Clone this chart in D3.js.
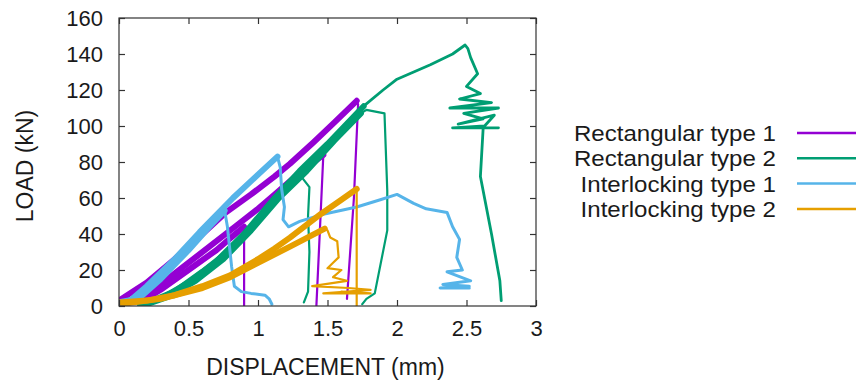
<!DOCTYPE html>
<html>
<head>
<meta charset="utf-8">
<script src="https://cdn.jsdelivr.net/npm/d3@7"></script>
<style>
  body { margin: 0; background: #fff; }
  svg { display: block; font-family: "Liberation Sans", Arial, sans-serif; }
</style>
</head>
<body>
<svg id="chart" width="856" height="382"></svg>
<script>
// axis ticks
const xTicks = [0, 0.5, 1, 1.5, 2, 2.5, 3];
const yTicks = [0, 20, 40, 60, 80, 100, 120, 140, 160];

const seriesNames = ['Rectangular type 1', 'Rectangular type 2', 'Interlocking type 1', 'Interlocking type 2'];
const seriesColors = ['#9400d3', '#009e73', '#56b4e9', '#e69f00'];

// Rectangular type 1 specimens [displacement mm, load kN]
const r1aLoad = [[0, 3], [0.2, 13], [0.4, 26], [0.6, 40], [0.77, 52], [0.95, 62], [1.12, 72], [1.23, 79], [1.4, 91], [1.55, 102], [1.71, 114]];
const r1aPost = [[1.71, 114], [1.72, 112], [1.69, 60], [1.64, 4]];
const r1bLoad = [[0.15, 2], [0.3, 9], [0.5, 20], [0.7, 31], [0.79, 37], [0.9, 44]];
const r1bPost = [[0.9, 44], [0.9, 20], [0.9, 0]];
const r1cLoad = [[0.05, 1], [0.25, 9], [0.45, 21], [0.65, 33], [0.85, 45], [1.0, 54], [1.12, 62], [1.3, 74], [1.47, 84]];
const r1cPost = [[1.47, 84], [1.45, 50], [1.42, 0]];

// Rectangular type 2 specimens
const r2aLoad = [[0.15, 1], [0.3, 4], [0.5, 13], [0.69, 24], [0.9, 40], [1.12, 60], [1.3, 75], [1.5, 90], [1.76, 111]];
const r2aPost = [[1.76, 111], [1.9, 120], [2.0, 126], [2.12, 130], [2.24, 134], [2.4, 140], [2.49, 145], [2.51, 143], [2.53, 138],
  [2.58, 129], [2.5, 122], [2.6, 118], [2.45, 115], [2.68, 113], [2.38, 110], [2.73, 110], [2.48, 107], [2.62, 104],
  [2.44, 101], [2.7, 106], [2.63, 100], [2.4, 99], [2.73, 99], [2.62, 99], [2.6, 72], [2.68, 40], [2.74, 14], [2.75, 3]];
const r2bLoad = [[0.2, 1], [0.35, 5], [0.55, 14], [0.75, 26], [0.95, 42], [1.15, 60], [1.35, 75], [1.55, 92], [1.74, 107]];
const r2bPost = [[1.74, 107], [1.78, 109], [1.91, 107], [1.93, 64], [1.93, 42], [1.84, 7], [1.78, 4], [1.75, 1]];
const r2cLoad = [[0.18, 1], [0.4, 8], [0.6, 19], [0.8, 31], [1.0, 48], [1.15, 61], [1.3, 73]];
const r2cPost = [[1.3, 73], [1.37, 66], [1.36, 50], [1.37, 30], [1.36, 8], [1.33, 2]];

// Interlocking type 1 specimens
const i1aLoad = [[0, 2], [0.14, 4], [0.3, 15], [0.5, 31], [0.65, 44], [0.76, 53]];
const i1aPost = [[0.76, 53], [0.78, 44], [0.81, 22], [0.83, 11], [0.88, 8], [0.95, 7], [1.05, 6], [1.08, 4], [1.1, 1]];
const i1bLoad = [[0.05, 1], [0.2, 11], [0.4, 26], [0.58, 41], [0.82, 60], [1.0, 73], [1.14, 83]];
const i1bPost = [[1.14, 83], [1.16, 77], [1.17, 65], [1.19, 55], [1.18, 48], [1.22, 44], [1.3, 47], [1.47, 51], [1.71, 55],
  [1.88, 59], [2.0, 62], [2.12, 57], [2.21, 54], [2.36, 52], [2.4, 44], [2.45, 37], [2.43, 27], [2.47, 20], [2.36, 19],
  [2.53, 14], [2.33, 12], [2.52, 11], [2.31, 10], [2.52, 10]];

// Interlocking type 2 specimens
const i2aLoad = [[0, 2], [0.2, 3], [0.4, 6], [0.6, 11], [0.8, 17], [1.0, 26], [1.12, 32], [1.23, 38], [1.45, 51], [1.6, 59], [1.71, 65]];
const i2aPost = [[1.71, 65], [1.71, 30], [1.71, 0]];
const i2bLoad = [[0, 1], [0.3, 4], [0.6, 10], [0.8, 16], [1.0, 24], [1.23, 33], [1.48, 43]];
const i2bPost = [[1.48, 43], [1.5, 42], [1.52, 38], [1.57, 36], [1.58, 27], [1.54, 24], [1.5, 21], [1.6, 20], [1.54, 16],
  [1.64, 14], [1.39, 11], [1.65, 10], [1.81, 9], [1.47, 7], [1.81, 7], [1.6, 8]];

const groups = [
  [r1aLoad, r1aPost, r1bLoad, r1bPost, r1cLoad, r1cPost],
  [r2aLoad, r2aPost, r2bLoad, r2bPost, r2cLoad, r2cPost],
  [i1aLoad, i1aPost, i1bLoad, i1bPost],
  [i2aLoad, i2aPost, i2bLoad, i2bPost]
];

const margin = { top: 18, right: 320, bottom: 76, left: 119 };
const width = 856 - margin.left - margin.right;
const height = 382 - margin.top - margin.bottom;

const svg = d3.select('#chart');
const chart = svg.append('g').attr('transform', 'translate(' + margin.left + ',' + margin.top + ')');

const x = d3.scaleLinear().domain([0, 3]).range([0, width]);
const y = d3.scaleLinear().domain([0, 160]).range([height, 0]);

chart.append('clipPath').attr('id', 'clip')
  .append('rect').attr('width', width).attr('height', height);

const line = d3.line().x(d => x(d[0])).y(d => y(d[1]));

const plot = chart.append('g').attr('clip-path', 'url(#clip)');
groups.forEach((arrs, gi) => {
  arrs.forEach((arr, ai) => {
    // even index = noisy loading branch (thick), odd = post-peak branch (thin)
    let w = ai % 2 === 0 ? 6 : 2.2;
    if (gi === 2 && ai % 2 === 1) w = 3;
    if (gi === 1 && ai === 1) w = 2.8;
    plot.append('path')
      .attr('d', line(arr))
      .attr('fill', 'none')
      .attr('stroke', seriesColors[gi])
      .attr('stroke-width', w)
      .attr('stroke-linejoin', 'round')
      .attr('stroke-linecap', 'round');
  });
});

// gnuplot style frame with inward ticks on all sides
const tickLen = 6;
const axisColor = '#333';
chart.append('rect')
  .attr('width', width).attr('height', height)
  .attr('fill', 'none').attr('stroke', axisColor).attr('stroke-width', 1.2);

const xAxisB = d3.axisBottom(x).tickValues(xTicks).tickSizeInner(-tickLen).tickSizeOuter(0).tickPadding(14)
  .tickFormat(d3.format('~g'));
const xAxisT = d3.axisTop(x).tickValues(xTicks).tickSizeInner(-tickLen).tickSizeOuter(0).tickFormat('');
const yAxisL = d3.axisLeft(y).tickValues(yTicks).tickSizeInner(-tickLen).tickSizeOuter(0).tickPadding(16);
const yAxisR = d3.axisRight(y).tickValues(yTicks).tickSizeInner(-tickLen).tickSizeOuter(0).tickFormat('');

chart.append('g').attr('transform', 'translate(0,' + height + ')').call(xAxisB);
chart.append('g').call(xAxisT);
chart.append('g').call(yAxisL);
chart.append('g').attr('transform', 'translate(' + width + ',0)').call(yAxisR);

chart.selectAll('.domain').remove();
chart.selectAll('.tick line').attr('stroke', axisColor).attr('stroke-width', 1.2);
chart.selectAll('.tick text').attr('fill', '#1a1a1a').style('font-size', '22px')
  .style('font-family', '"Liberation Sans", Arial, sans-serif');

svg.append('text')
  .attr('x', margin.left + width / 2 - 2)
  .attr('y', 375)
  .attr('text-anchor', 'middle')
  .attr('fill', '#1a1a1a')
  .style('font-size', '23px')
  .text('DISPLACEMENT (mm)');

svg.append('text')
  .attr('transform', 'translate(33,' + (margin.top + height / 2 + 4) + ') rotate(-90)')
  .attr('text-anchor', 'middle')
  .attr('fill', '#1a1a1a')
  .style('font-size', '23px')
  .text('LOAD (kN)');

// legend: rows are tight in the original, glyphs a little wider than tall
const legend = svg.append('g').attr('transform', 'translate(0,133)');
seriesNames.forEach((name, i) => {
  const row = legend.append('g').attr('transform', 'translate(0,' + (i * 25.3) + ')');
  const t = row.append('text')
    .attr('x', 776).attr('y', 8)
    .attr('text-anchor', 'end')
    .attr('fill', '#1a1a1a')
    .style('font-size', '22.5px')
    .text(name);
  const len = t.node().getComputedTextLength();
  t.attr('textLength', len * 1.07).attr('lengthAdjust', 'spacingAndGlyphs');
  row.append('line')
    .attr('x1', 797).attr('x2', 860)
    .attr('stroke', seriesColors[i]).attr('stroke-width', 2.5);
});
</script>
</body>
</html>
